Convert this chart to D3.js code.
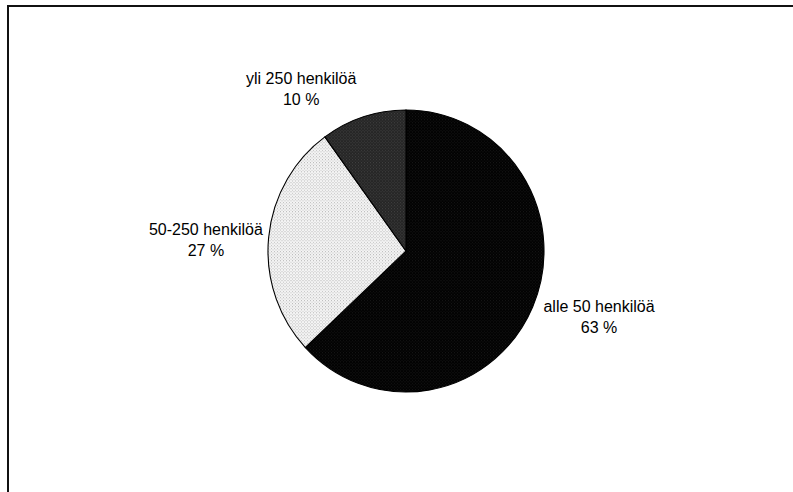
<!DOCTYPE html>
<html>
<head>
<meta charset="utf-8">
<script src="https://cdn.jsdelivr.net/npm/d3@7"></script>
<style>
  html, body { margin: 0; padding: 0; background: #fff; }
  svg { display: block; }
  text { font-family: "Liberation Sans", Arial, sans-serif; font-size: 16px; fill: #000; }
</style>
</head>
<body>
<svg id="chart" width="793" height="492"></svg>
<script>
// ---- data ----
const categories = ["alle 50 henkilöä", "50-250 henkilöä", "yli 250 henkilöä"];
const shares = [63, 27, 10];
const valueLabels = ["63 %", "27 %", "10 %"];

// ---- layout / style ----
const W = 793, H = 492;
const cx = 406, cy = 251, r = 138, ry = 141;
const fills = ["url(#patBlack)", "url(#patLight)", "url(#patDark)"];
// label offsets relative to point on label radius along slice mid-angle
const labelRadius = 200;
const labelOffsets = [[9.5, -13.5], [-1, 8], [-43, 28]];

const svg = d3.select("#chart");
const defs = svg.append("defs");

function makePattern(id, bg, dot) {
  const p = defs.append("pattern").attr("id", id)
    .attr("width", 3).attr("height", 3).attr("patternUnits", "userSpaceOnUse");
  p.append("rect").attr("width", 3).attr("height", 3).attr("fill", bg);
  p.append("rect").attr("x", 0).attr("y", 0).attr("width", 1).attr("height", 1).attr("fill", dot);
  p.append("rect").attr("x", 1.5).attr("y", 1.5).attr("width", 1).attr("height", 1).attr("fill", dot);
}
makePattern("patBlack", "#020202", "#151515");
makePattern("patLight", "#f4f4f4", "#bdbdbd");
makePattern("patDark", "#262626", "#3f3f3f");

// frame (open on right and bottom, extends past the window)
svg.append("path")
  .attr("d", `M8,${H + 10} L8,6 L${W + 10},6`)
  .attr("fill", "none").attr("stroke", "#111").attr("stroke-width", 2);

const pie = d3.pie().sort(null).value(d => d)(shares);
const arc = d3.arc().innerRadius(0).outerRadius(r);

const g = svg.append("g")
  .attr("transform", `translate(${cx},${cy}) scale(1,${ry / r})`);

g.selectAll("path.slice")
  .data(pie)
  .enter().append("path")
  .attr("class", "slice")
  .attr("d", arc)
  .attr("fill", (d, i) => fills[i])
  .attr("stroke", "#000")
  .attr("stroke-width", 1.1)
  .attr("vector-effect", "non-scaling-stroke");

// labels
const labels = svg.append("g");
pie.forEach((d, i) => {
  const a = (d.startAngle + d.endAngle) / 2;
  const x = cx + labelRadius * Math.sin(a) + labelOffsets[i][0];
  const y = cy - labelRadius * Math.cos(a) + labelOffsets[i][1];
  const t = labels.append("text").attr("text-anchor", "middle");
  t.append("tspan").attr("x", x).attr("y", y - 10.5 + 5.5).text(categories[i]);
  t.append("tspan").attr("x", x).attr("y", y + 10.5 + 5.5).text(valueLabels[i]);
});
</script>
</body>
</html>
